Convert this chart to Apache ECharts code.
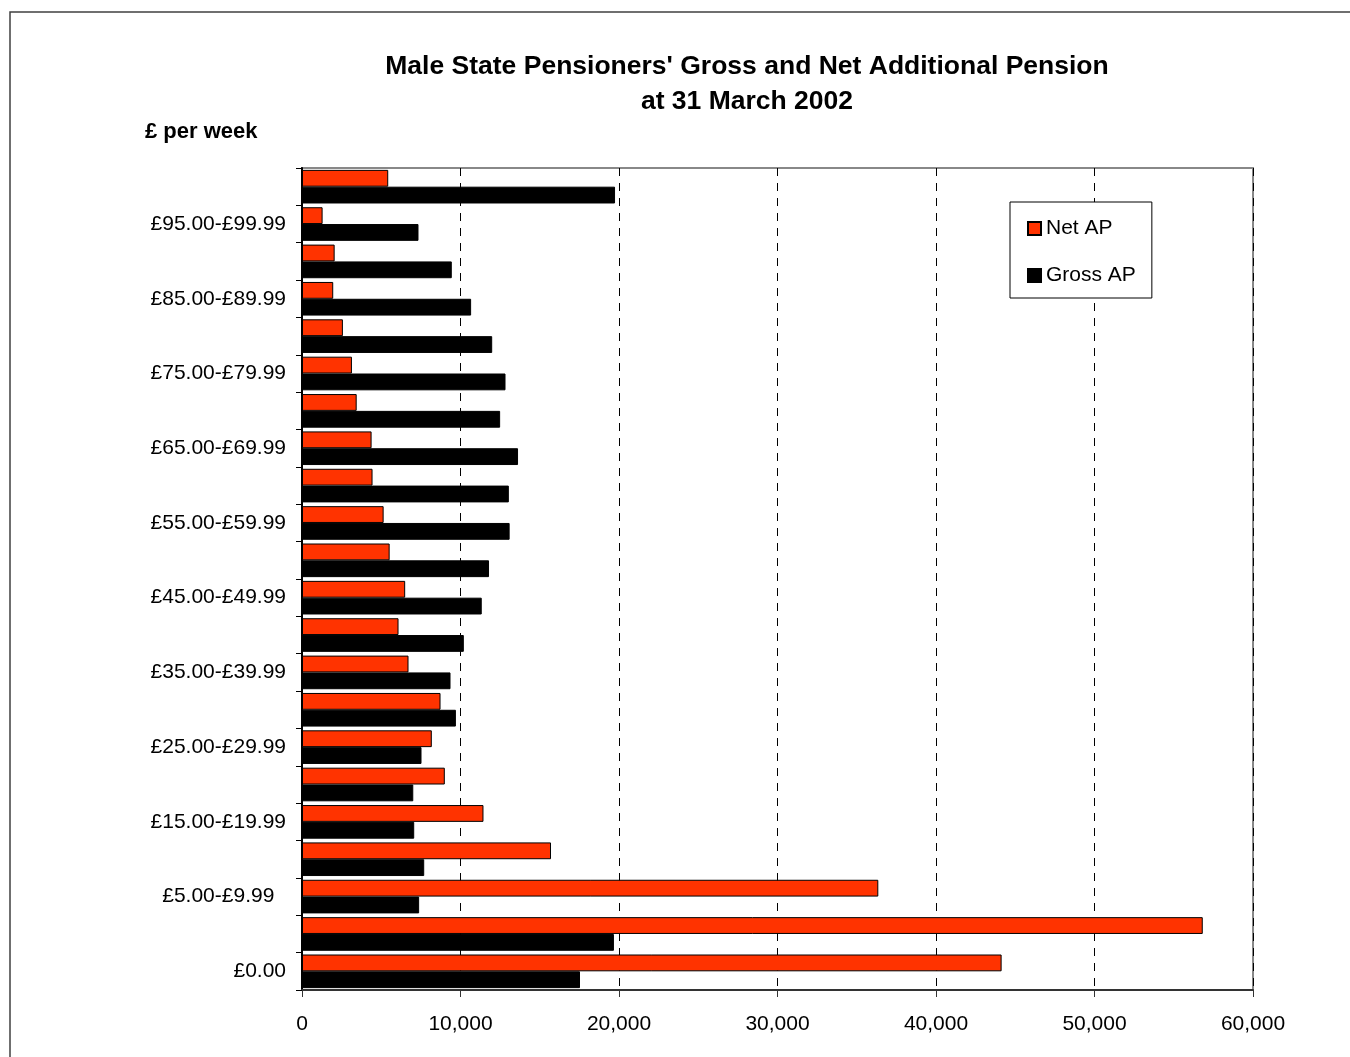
<!DOCTYPE html>
<html>
<head>
<meta charset="utf-8">
<script src="https://cdn.jsdelivr.net/npm/echarts@6/dist/echarts.min.js"></script>
<style>
html,body{margin:0;padding:0;background:#fff;}
#chart{width:1350px;height:1057px;}
</style>
</head>
<body>
<div id="chart"></div>
<script>
// Categories listed bottom to top
const categories = [
  "£0.00", "£0.01-£4.99", "£5.00-£9.99  ", "£10.00-£14.99", "£15.00-£19.99",
  "£20.00-£24.99", "£25.00-£29.99", "£30.00-£34.99", "£35.00-£39.99", "£40.00-£44.99",
  "£45.00-£49.99", "£50.00-£54.99", "£55.00-£59.99", "£60.00-£64.99", "£65.00-£69.99",
  "£70.00-£74.99", "£75.00-£79.99", "£80.00-£84.99", "£85.00-£89.99", "£90.00-£94.99",
  "£95.00-£99.99", "£100.00 and over"
];
const netAP = [
  44140, 56830, 36360, 15710, 11450, 9010, 8190, 8740, 6720, 6090,
  6510, 5530, 5150, 4450, 4390, 3450, 3150, 2580, 1970, 2060, 1300, 5440
];
const grossAP = [
  17540, 19680, 7390, 7710, 7080, 7020, 7540, 9710, 9370, 10210,
  11340, 11800, 13100, 13050, 13630, 12500, 12840, 12000, 10670, 9450, 7350, 19750
];
const titleLines = ["Male State Pensioners' Gross and Net Additional Pension", "at 31 March 2002"];
const unitLabel = "£ per week";
const seriesNames = ["Net AP", "Gross AP"];

const FONT = "'Liberation Sans', Arial, sans-serif";
const chart = echarts.init(document.getElementById('chart'), null, {renderer: 'canvas'});
chart.setOption({
  animation: false,
  backgroundColor: '#fff',
  textStyle: {fontFamily: FONT},
  graphic: [{
    type: 'rect', silent: true, z: -10,
    shape: {x: 10, y: 12, width: 1400, height: 1100},
    style: {fill: 'none', stroke: '#404040', lineWidth: 1.5}
  }],
  title: [{
    text: titleLines.join('\n'),
    left: 747, top: 49, textAlign: 'center', padding: 0,
    textStyle: {fontFamily: FONT, fontSize: 26.5, fontWeight: 'bold', color: '#000', lineHeight: 35}
  }, {
    text: unitLabel,
    left: 145, top: 121, padding: 0,
    textStyle: {fontFamily: FONT, fontSize: 22, fontWeight: 'bold', color: '#000', lineHeight: 22}
  }],
  legend: {
    orient: 'vertical',
    left: 1010, top: 202,
    padding: [16, 16, 12, 17],
    itemWidth: 13, itemHeight: 13, itemGap: 26,
    itemTextGap: 5,
    backgroundColor: '#fff',
    borderColor: '#000', borderWidth: 1,
    icon: 'rect',
    textStyle: {fontFamily: FONT, fontSize: 21, color: '#000', lineHeight: 21},
    data: seriesNames
  },
  grid: {
    left: 302, right: 97, top: 168, bottom: 67,
    show: true, borderColor: '#888', borderWidth: 2, backgroundColor: '#fff'
  },
  xAxis: {
    type: 'value', min: 0, max: 60000, interval: 10000,
    axisLine: {show: true, lineStyle: {color: '#333', width: 2}},
    axisTick: {show: true, length: 7, lineStyle: {color: '#333', width: 1}},
    axisLabel: {
      margin: 24, color: '#000', fontFamily: FONT, fontSize: 21,
      formatter: v => v.toLocaleString('en-US')
    },
    splitLine: {show: true, lineStyle: {color: '#000', width: 1, type: [8, 7]}}
  },
  yAxis: {
    type: 'category', data: categories,
    axisLine: {show: true, lineStyle: {color: '#000', width: 2}},
    axisTick: {show: true, interval: 0, length: 6, lineStyle: {color: '#000', width: 1}},
    axisLabel: {interval: 1, margin: 16, color: '#000', fontFamily: FONT, fontSize: 21, padding: [3, 0, 0, 0]},
    splitLine: {show: false}
  },
  series: [{
    name: seriesNames[0], type: 'bar', data: netAP,
    barGap: '0%', barCategoryGap: '10%',
    itemStyle: {color: '#FF3300', borderColor: '#000', borderWidth: 1}
  }, {
    name: seriesNames[1], type: 'bar', data: grossAP,
    barGap: '0%', barCategoryGap: '10%',
    itemStyle: {color: '#000', borderColor: '#000', borderWidth: 1}
  }]
});
</script>
</body>
</html>
